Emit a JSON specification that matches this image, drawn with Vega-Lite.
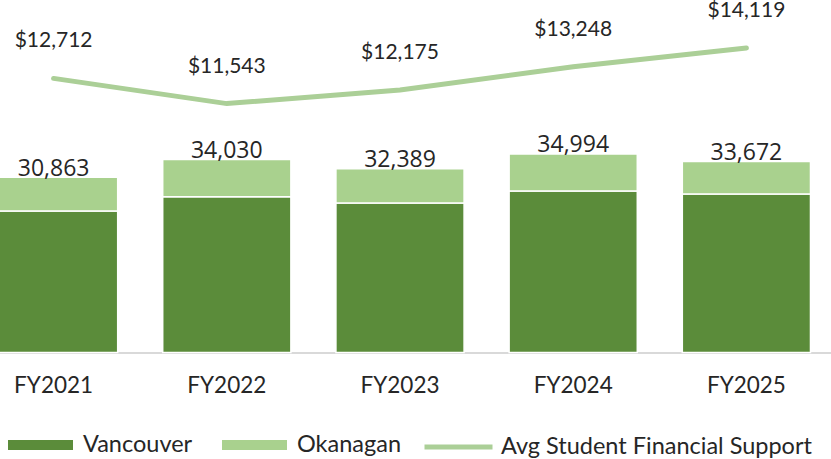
{
  "$schema": "https://vega.github.io/schema/vega-lite/v6.json",
  "width": 866,
  "height": 345,
  "autosize": "none",
  "padding": {"left": -33, "top": 7.5, "right": 0, "bottom": 106.5},
  "background": "white",
  "config": {"view": {"stroke": null}, "font": "Lato"},
  "datasets": {
    "students": [
      {"year": "FY2021", "campus": "Vancouver", "students": 24930},
      {"year": "FY2021", "campus": "Okanagan", "students": 5933},
      {"year": "FY2022", "campus": "Vancouver", "students": 27450},
      {"year": "FY2022", "campus": "Okanagan", "students": 6580},
      {"year": "FY2023", "campus": "Vancouver", "students": 26340},
      {"year": "FY2023", "campus": "Okanagan", "students": 6049},
      {"year": "FY2024", "campus": "Vancouver", "students": 28455},
      {"year": "FY2024", "campus": "Okanagan", "students": 6539},
      {"year": "FY2025", "campus": "Vancouver", "students": 27930},
      {"year": "FY2025", "campus": "Okanagan", "students": 5742}
    ],
    "support": [
      {"year": "FY2021", "series": "Avg Student Financial Support", "avg": 12712},
      {"year": "FY2022", "series": "Avg Student Financial Support", "avg": 11543},
      {"year": "FY2023", "series": "Avg Student Financial Support", "avg": 12175},
      {"year": "FY2024", "series": "Avg Student Financial Support", "avg": 13248},
      {"year": "FY2025", "series": "Avg Student Financial Support", "avg": 14119}
    ]
  },
  "encoding": {
    "x": {
      "field": "year",
      "type": "nominal",
      "scale": {"paddingInner": 0.26, "paddingOuter": 0.13},
      "axis": {
        "title": null,
        "labelAngle": 0,
        "ticks": false,
        "domainColor": "#d9d9d9",
        "domainWidth": 2,
        "labelFont": "Lato",
        "labelFontSize": 22.5,
        "labelColor": "#262626",
        "labelBaseline": "alphabetic",
        "labelPadding": 40
      }
    }
  },
  "layer": [
    {
      "data": {"name": "students"},
      "layer": [
        {
          "mark": {"type": "bar", "stroke": "white", "strokeWidth": 1.5},
          "encoding": {
            "y": {"field": "students", "type": "quantitative", "stack": "zero", "scale": {"domain": [0, 60800], "nice": false}, "axis": null},
            "color": {
              "field": "campus",
              "type": "nominal",
              "scale": {"domain": ["Vancouver", "Okanagan"], "range": ["#5B8C3A", "#A9D18E"]},
              "legend": {
                "title": null,
                "orient": "none",
                "legendX": 41,
                "legendY": 405,
                "direction": "horizontal",
                "symbolType": "M-1,-0.154H1V0.154H-1Z",
                "symbolSize": 4225,
                "symbolStrokeWidth": 0,
                "labelFont": "Lato",
                "labelFontSize": 23.5,
                "labelColor": "#262626",
                "labelOffset": 10,
                "labelLimit": 400,
                "columnPadding": 29,
                "padding": 0
              }
            },
            "order": {"field": "campus", "sort": "descending"}
          }
        },
        {
          "mark": {"type": "text", "font": "Open Sans", "fontSize": 23, "color": "#262626", "baseline": "alphabetic", "dy": -1.5},
          "encoding": {
            "y": {"aggregate": "sum", "field": "students", "type": "quantitative"},
            "text": {"aggregate": "sum", "field": "students", "type": "quantitative", "format": ","}
          }
        }
      ]
    },
    {
      "data": {"name": "support"},
      "layer": [
        {
          "mark": {"type": "line", "strokeWidth": 5, "strokeCap": "round"},
          "encoding": {
            "y": {"field": "avg", "type": "quantitative", "scale": {"domain": [0, 16000], "nice": false}, "axis": null},
            "stroke": {
              "field": "series",
              "type": "nominal",
              "scale": {"range": ["#ABCF97"]},
              "legend": {
                "title": null,
                "orient": "none",
                "legendX": 455,
                "legendY": 403,
                "symbolType": "stroke",
                "symbolSize": 4624,
                "symbolStrokeWidth": 5,
                "labelFont": "Lato",
                "labelFontSize": 23.5,
                "labelColor": "#262626",
                "labelOffset": 6,
                "labelLimit": 400,
                "padding": 0
              }
            }
          }
        },
        {
          "mark": {"type": "text", "font": "Lato", "fontSize": 21, "color": "#262626", "baseline": "alphabetic", "dy": -31},
          "encoding": {
            "y": {"field": "avg", "type": "quantitative"},
            "text": {"field": "avg", "type": "quantitative", "format": "$,"}
          }
        }
      ]
    }
  ],
  "resolve": {"scale": {"y": "independent"}}
}
